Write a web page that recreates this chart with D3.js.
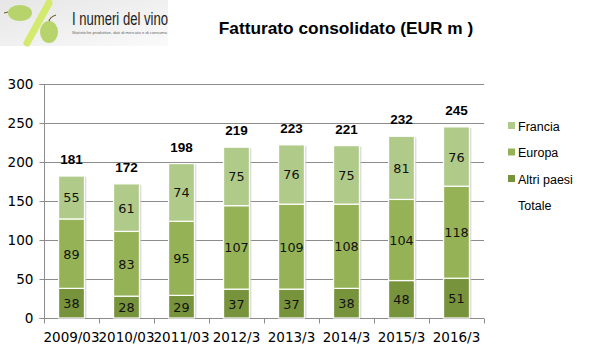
<!DOCTYPE html>
<html><head><meta charset="utf-8">
<script src="https://cdn.jsdelivr.net/npm/d3@7"></script>
<style>body{margin:0;background:#fff}svg{display:block}</style>
</head><body>
<svg id="c" width="593" height="354"></svg>
<script>
const categories = ["2009/03","2010/03","2011/03","2012/3","2013/3","2014/3","2015/3","2016/3"];
const altriPaesi = [38,28,29,37,37,38,48,51];
const europa = [89,83,95,107,109,108,104,118];
const francia = [55,61,74,75,76,75,81,76];
const totale = [181,172,198,219,223,221,232,245];
const seriesNames = ["Altri paesi","Europa","Francia"];
const yTicks = [0,50,100,150,200,250,300];
const colors = {"Altri paesi":"#77933C","Europa":"#95B356","Francia":"#B0CA89"};

(function(){
const svg = d3.select("#c");
// Logo
const defs = svg.append("defs");
const g1 = defs.append("linearGradient").attr("id","lg").attr("x1",0).attr("y1",0).attr("x2",1).attr("y2",1);
g1.append("stop").attr("offset","0").attr("stop-color","#e6e6e6");
g1.append("stop").attr("offset","1").attr("stop-color","#fafafa");
const logo = svg.append("g");
logo.append("rect").attr("x",0).attr("y",0).attr("width",168).attr("height",46).attr("fill","url(#lg)");
logo.append("line").attr("x1",49).attr("y1",3).attr("x2",27).attr("y2",43).attr("stroke","#d4ea6e").attr("stroke-width",7).attr("stroke-linecap","round");
logo.append("ellipse").attr("cx",20).attr("cy",13).attr("rx",12).attr("ry",8).attr("fill","#b7d46c");
logo.append("path").attr("d","M8,12 L4,13").attr("stroke","#6b5a2a").attr("stroke-width",1.2);
logo.append("ellipse").attr("cx",49).attr("cy",32).attr("rx",9).attr("ry",11).attr("fill","#b7d46c");
logo.append("path").attr("d","M49,21 Q50,17 56,15").attr("stroke","#6b5a2a").attr("stroke-width",1.2).attr("fill","none");
logo.append("text").attr("x",72).attr("y",25).attr("font-family","Liberation Sans Narrow, Liberation Sans, Arial").attr("font-size",18).attr("fill","#222").attr("textLength",96).attr("lengthAdjust","spacingAndGlyphs").text("I numeri del vino");
logo.append("text").attr("x",72).attr("y",34).attr("font-family","Liberation Sans, Arial").attr("font-size",4).attr("fill","#666").attr("textLength",96).attr("lengthAdjust","spacingAndGlyphs").text("Statistiche produttive, dati di mercato e di consumo.");

// Title
svg.append("text").attr("x",346).attr("y",34).attr("text-anchor","middle").attr("font-family","Liberation Sans, Arial").attr("font-weight","bold").attr("font-size",17.3).attr("fill","#000").text("Fatturato consolidato (EUR m )");

const pl = 44, pr = 484, pt = 84, pb = 318;
const x = d3.scaleBand().domain(categories).range([pl,pr]).paddingInner(0.53).paddingOuter(0.265);
const xb = d3.scaleBand().domain(categories).range([pl,pr]);
const y = d3.scaleLinear().domain([0,300]).range([pb,pt]);

// gridlines
svg.append("g").selectAll("line").data(yTicks.slice(1)).join("line")
  .attr("x1",pl).attr("x2",pr).attr("y1",d=>y(d)+0.5).attr("y2",d=>y(d)+0.5)
  .attr("stroke","#8c8c8c").attr("stroke-width",1);

// y axis
const ya = svg.append("g").attr("transform",`translate(${pl+0.5},0)`).call(d3.axisLeft(y).tickValues(yTicks).tickSize(5).tickPadding(6));
ya.select(".domain").attr("stroke","#8c8c8c").attr("d",`M-5,${y(300)+0.5}H0V${pb+0.5}H-5`);
ya.selectAll(".tick line").attr("stroke","#8c8c8c");
ya.selectAll("text").attr("font-family","DejaVu Sans, Verdana").attr("font-size",13.6).attr("fill","#000");

// x axis
const xa = svg.append("g").attr("transform",`translate(0,${pb+0.5})`);
xa.append("line").attr("x1",pl).attr("x2",pr).attr("stroke","#8c8c8c");
xa.selectAll("line.t").data(categories.concat(["end"])).join("line").attr("class","t")
  .attr("x1",(d,i)=>pl+i*xb.step()+0.5).attr("x2",(d,i)=>pl+i*xb.step()+0.5).attr("y1",0).attr("y2",5).attr("stroke","#8c8c8c");
xa.selectAll("text").data(categories).join("text")
  .attr("x",d=>xb(d)+xb.bandwidth()/2).attr("y",23).attr("text-anchor","middle")
  .attr("font-family","DejaVu Sans, Verdana").attr("font-size",13.5).attr("fill","#000").text(d=>d);

// stacked bars
const rows = categories.map((c,i)=>({cat:c,"Altri paesi":altriPaesi[i],"Europa":europa[i],"Francia":francia[i]}));
const stack = d3.stack().keys(seriesNames)(rows);
const bars = svg.append("g");
const sum = d=>d["Altri paesi"]+d.Europa+d.Francia;
bars.selectAll("rect.sh").data(rows).join("rect").attr("class","sh")
  .attr("x",d=>x(d.cat)+2).attr("y",d=>y(sum(d))+1)
  .attr("width",x.bandwidth()).attr("height",d=>pb-y(sum(d))-1)
  .attr("fill","#d0d0d0").attr("opacity",0.7);
stack.forEach(s=>{
  bars.selectAll(null).data(s).join("rect")
    .attr("x",d=>x(d.data.cat)).attr("y",d=>y(d[1])).attr("width",x.bandwidth()).attr("height",d=>y(d[0])-y(d[1]))
    .attr("fill",colors[s.key]).attr("stroke","#fff").attr("stroke-width",1.2);
  bars.selectAll(null).data(s).join("text")
    .attr("x",d=>x(d.data.cat)+x.bandwidth()/2).attr("y",d=>(y(d[0])+y(d[1]))/2+5)
    .attr("text-anchor","middle").attr("font-family","DejaVu Sans, Verdana").attr("font-size",12.8).attr("fill","#111")
    .text(d=>d[1]-d[0]);
});
// totals
svg.append("g").selectAll("text").data(rows).join("text")
  .attr("x",d=>x(d.cat)+x.bandwidth()/2).attr("y",d=>y(sum(d))-12)
  .attr("text-anchor","middle").attr("font-family","Liberation Sans, Arial").attr("font-weight","bold").attr("font-size",13.5).attr("fill","#000")
  .text((d,i)=>totale[i]);

// legend
const legItems = ["Francia","Europa","Altri paesi","Totale"];
const leg = svg.append("g");
legItems.forEach((n,i)=>{
  const ly = 126 + i*26.5;
  if (colors[n]) leg.append("rect").attr("x",508).attr("y",ly-4).attr("width",7).attr("height",7).attr("fill",colors[n]);
  leg.append("text").attr("x",518).attr("y",ly+4.5).attr("font-family","Liberation Sans, Arial").attr("font-size",12.5).attr("fill","#000").text(n);
});
})();
</script>
</body></html>
